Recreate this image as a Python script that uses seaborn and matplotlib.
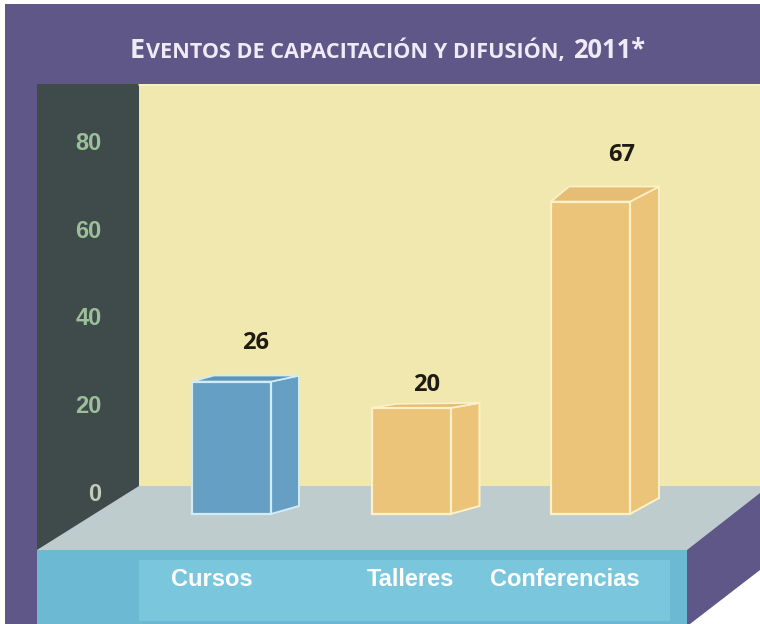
import matplotlib
matplotlib.use("Agg")
import matplotlib.pyplot as plt
from matplotlib.patches import Polygon, Rectangle
import seaborn as sns

# Data
categories = ["Cursos", "Talleres", "Conferencias"]
values = [26, 20, 67]
y_ticks = [0, 20, 40, 60, 80]

# Colours
bar_colors = ["#659fc3", "#ebc379", "#ebc379"]
top_colors = ["#5c95b8", "#e6bd75", "#e6bd75"]
edge_colors = ["#d2ecf7", "#fdf1c8", "#fdf1c8"]
PURPLE = "#5e5787"

sns.set_theme(style="white")
W, H = 760, 624
fig = plt.figure(figsize=(W / 100, H / 100), dpi=100)
fig.patch.set_facecolor("white")

# Background axes in pixel coordinates for the box around the chart
pix = fig.add_axes([0, 0, 1, 1], zorder=0)
pix.set_xlim(0, W)
pix.set_ylim(H, 0)
pix.axis("off")

pix.add_patch(Rectangle((5, 4), W - 5, H - 4, color=PURPLE, lw=0))
pix.add_patch(Rectangle((139, 84), W - 139, 402, color="#f0e8ae", lw=0))
pix.plot([139, W], [84.5, 84.5], color="#f8f2cc", lw=1.2)
pix.add_patch(Polygon([(37, 84), (139, 84), (139, 486), (37, 550)], color="#3f4a4a", lw=0))
pix.add_patch(Polygon([(37, 550), (139, 486), (W, 486), (W, 493), (687, 550)], color="#bfcccd", lw=0))
pix.add_patch(Rectangle((37, 550), 650, 74, color="#6bb9d2", lw=0))
pix.add_patch(Rectangle((139, 560), 531, 61, color="#7ac6dc", lw=0))
pix.add_patch(Polygon([(W, 570), (W, H), (690, H)], color="white", lw=0))

# Pixels per unit and the zero lines of the two planes
scale = 4.39
wall_zero = 492
bar_zero = 495.7
base_px = 514
top_px, bottom_px = 84, 550
pos = [139 / W, 1 - bottom_px / H, (687 - 139) / W, (bottom_px - top_px) / H]

# Value axis, painted on the dark wall
wall = fig.add_axes(pos, zorder=1)
wall.patch.set_alpha(0)
wall.set_ylim((wall_zero - bottom_px) / scale, (wall_zero - top_px) / scale)
wall.set_xticks([])
wall.set_yticks(y_ticks)
wall.set_yticklabels(y_ticks, fontsize=17, fontweight="bold", family="Liberation Sans", color="#9cc09a")
wall.get_yticklabels()[0].set_color("#c4cbbd")
wall.tick_params(axis="y", length=0, pad=27)
sns.despine(ax=wall, left=True, bottom=True)

# Bars
ax = fig.add_axes(pos, zorder=2)
ax.patch.set_alpha(0)
sns.barplot(x=categories, y=values, hue=categories, palette=bar_colors, dodge=False,
            width=79 / 179.5, legend=False, saturation=1, ax=ax)
ax.set_ylim((bar_zero - bottom_px) / scale, (bar_zero - top_px) / scale)
# keep the category centres where the picture has them
ax.set_xlim(-(231.5 - 139) / 179.5, (687 - 231.5) / 179.5)
ax.axis("off")

# The front faces stand on the floor, a little below the zero line
base_value = (bar_zero - base_px) / scale
depth_right = [(28, 6), (29, 5), (29, 15)]
depth_left = [(22, 6), (25, 4), (18, 15)]
depth_bottom = [8, 8, 16]
for i, bar in enumerate(ax.patches):
    v = bar.get_height()
    bar.set_y(base_value)
    bar.set_height(v - base_value)
    bar.set_edgecolor(edge_colors[i])
    bar.set_linewidth(1.6)
    bar.set_zorder(4)

    x0 = ax.transData.transform((bar.get_x(), 0))[0]
    x1 = ax.transData.transform((bar.get_x() + bar.get_width(), 0))[0]
    y_top = H - ax.transData.transform((0, v))[1]
    dx, dy = depth_right[i]
    lx, ly = depth_left[i]
    side = [(x1, y_top), (x1 + dx, y_top - dy), (x1 + dx, base_px - depth_bottom[i]), (x1, base_px)]
    top = [(x0, y_top), (x0 + lx, y_top - ly), (x1 + dx, y_top - dy), (x1, y_top)]
    ax.add_patch(Polygon(side, closed=True, transform=pix.transData, facecolor=bar_colors[i],
                         edgecolor=edge_colors[i], lw=1.4, zorder=3, clip_on=False))
    ax.add_patch(Polygon(top, closed=True, transform=pix.transData, facecolor=top_colors[i],
                         edgecolor=edge_colors[i], lw=1.2, zorder=3, clip_on=False))

# Overlay for the texts
txt = fig.add_axes([0, 0, 1, 1], zorder=3)
txt.set_xlim(0, W)
txt.set_ylim(H, 0)
txt.axis("off")
txt.patch.set_alpha(0)

value_pos = [(256, 343), (427, 385), (622, 155)]
for v, (x, y) in zip(values, value_pos):
    txt.text(x, y, str(v), ha="center", va="center", fontsize=17, fontweight="bold",
             family="Open Sans", color="#1e1a14")

label_pos = [212, 410, 565]
for label, x in zip(categories, label_pos):
    txt.text(x, 579, label, ha="center", va="center", fontsize=17, fontweight="bold",
             family="Liberation Sans", color="white")

# Title in small caps, built from pieces
title_parts = [("E", 19.5, 0), ("VENTOS DE CAPACITACIÓN Y DIFUSIÓN,", 15.6, 7), ("2011*", 18.4, 0)]
x_pos = 130
renderer = fig.canvas.get_renderer()
for part, size, gap in title_parts:
    t = txt.text(x_pos, 58, part, ha="left", va="baseline", fontsize=size, fontweight="bold",
                 family="Open Sans", color="#efebf6")
    x_pos = t.get_window_extent(renderer).x1 + (1 if part == "E" else 8)

fig.savefig("out.png", dpi=100)
plt.close()
